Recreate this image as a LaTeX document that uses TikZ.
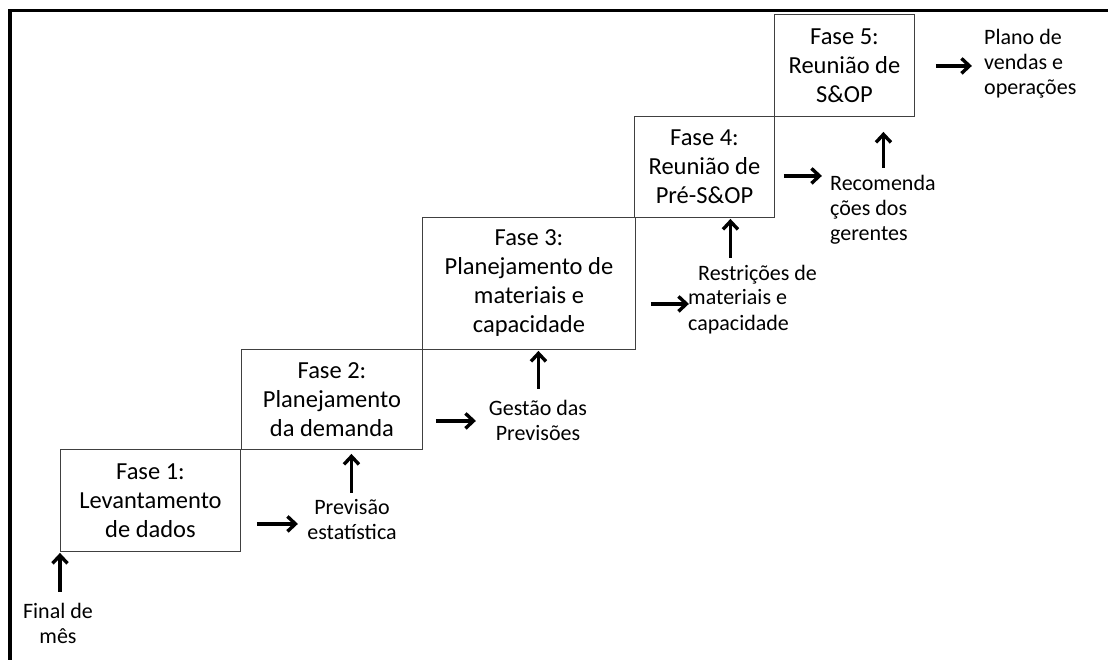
\documentclass[tikz,border=0pt]{standalone}
\usepackage{fontspec}
\setmainfont{Carlito}
\usetikzlibrary{arrows.meta,calc}
\tikzset{
  box/.style={draw=black!75, line width=0.9pt, inner sep=0pt, anchor=north west, align=center,
    font=\fontsize{24.5pt}{29pt}\selectfont},
  lbl/.style={inner sep=0pt, anchor=base, font=\fontsize{22pt}{25pt}\selectfont},
  arr/.style={line width=3.4pt, -{Straight Barb[length=8pt,width=15pt]}},
  frame/.style={line width=3.5pt}
}
\begin{document}
\begin{tikzpicture}[x=1pt,y=-1pt]
\useasboundingbox (0,0) rectangle (1108,660);
\draw[frame] (10,662) -- (10,10.5) -- (1110,10.5);

\node[box, minimum width=180pt, minimum height=102pt] (b1) at (60,449) {Fase 1:\\Levantamento\\de dados};
\node[box, minimum width=181pt, minimum height=100pt] (b2) at (241,349) {Fase 2:\\Planejamento\\da demanda};
\node[box, minimum width=213pt, minimum height=132pt] (b3) at (422,217) {Fase 3:\\Planejamento de\\materiais e\\capacidade};
\node[box, minimum width=140pt, minimum height=101pt] (b4) at (634,116) {Fase 4:\\Reunião de\\Pré-S\&OP};
\node[box, minimum width=140pt, minimum height=102pt] (b5) at (774,14) {Fase 5:\\Reunião de\\S\&OP};

\node[lbl, align=center] (l0) at (58,643) {Final de\\mês};
\node[lbl, align=center] (l1) at (352,539) {Previsão\\estatística};
\node[lbl, align=center] (l2) at (538,440) {Gestão das\\Previsões};
\node[lbl, align=left, anchor=base west] (l3) at (688,330) {\hspace{10pt}Restrições de\\materiais e\\capacidade};
\node[lbl, align=left, anchor=base west] (l4) at (830,241) {Recomenda\\ções dos\\gerentes};
\node[lbl, align=left, anchor=base west] (l5) at (984,95) {Plano de\\vendas e\\operações};

\draw[arr] ([yshift=-40pt]b1.south west) -- ([yshift=-1pt]b1.south west);
\draw[arr] ([xshift=16pt,yshift=28pt]b1.south east) -- ([xshift=57pt,yshift=28pt]b1.south east);
\draw[arr] ([xshift=19.5pt,yshift=-43pt]b2.south) -- ([xshift=19.5pt,yshift=-4pt]b2.south);
\draw[arr] ([xshift=13pt,yshift=29pt]b2.south east) -- ([xshift=53pt,yshift=29pt]b2.south east);
\draw[arr] ([xshift=9.5pt,yshift=-39pt]b3.south) -- ([xshift=9.5pt,yshift=-1pt]b3.south);
\draw[arr] ([xshift=15pt,yshift=46pt]b3.south east) -- ([xshift=53pt,yshift=46pt]b3.south east);
\draw[arr] ([xshift=26pt,yshift=-40pt]b4.south) -- ([xshift=26pt,yshift=-1pt]b4.south);
\draw[arr] ([xshift=9pt,yshift=42pt]b4.south east) -- ([xshift=47pt,yshift=42pt]b4.south east);
\draw[arr] ([xshift=39pt,yshift=-51pt]b5.south) -- ([xshift=39pt,yshift=-15pt]b5.south);
\draw[arr] ([xshift=21pt,yshift=51pt]b5.south east) -- ([xshift=57pt,yshift=51pt]b5.south east);
\end{tikzpicture}
\end{document}
